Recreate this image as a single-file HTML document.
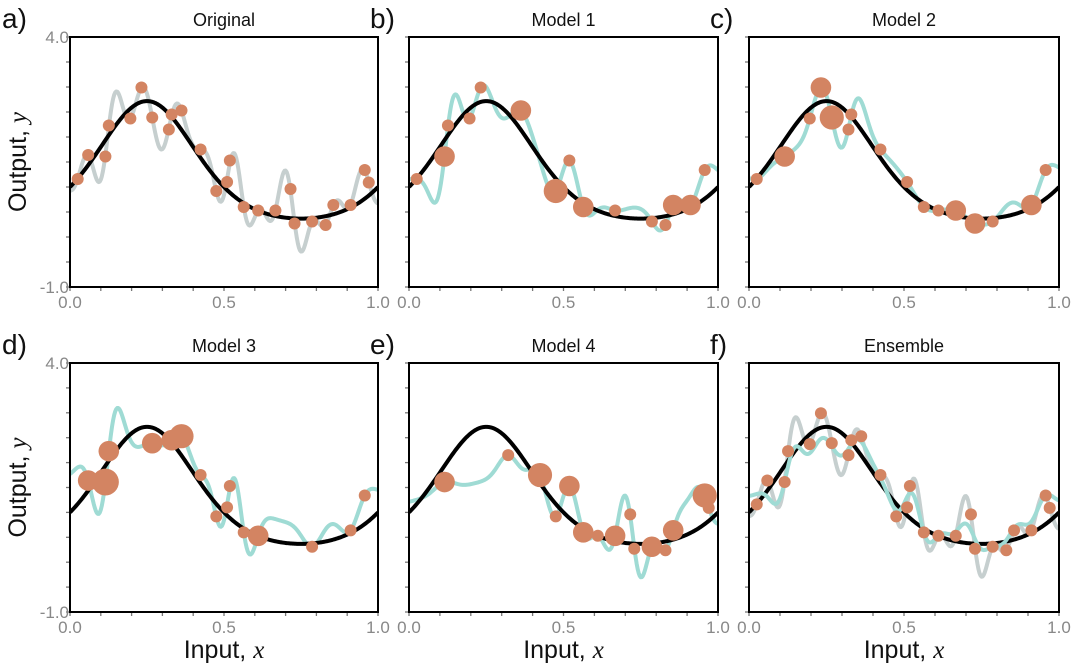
<!DOCTYPE html>
<html><head><meta charset="utf-8">
<style>
body{margin:0;background:#fff;}
svg{display:block;}
text{font-family:"Liberation Sans",sans-serif;}
</style></head>
<body>
<svg id="fig" width="1075" height="668" viewBox="0 0 1075 668"></svg>
<script>
// ---- data ----
const dataX = [0.025,0.059,0.126,0.115,0.196,0.232,0.267,0.321,0.33,0.362,0.424,0.475,0.51,0.519,0.564,0.611,0.667,0.716,0.729,0.786,0.83,0.855,0.911,0.957,0.97];
const dataY = [1.16,1.64,2.23,1.61,2.37,2.99,2.39,2.15,2.45,2.53,1.75,0.92,1.10,1.53,0.60,0.53,0.53,0.96,0.27,0.31,0.24,0.64,0.64,1.34,1.09];
// bootstrap samples: indices into data (1-based) and counts
const model1Idx = [1,4,3,5,6,10,12,14,15,17,20,21,22,23,24];
const model1Cnt = [1,2,1,1,1,2,3,1,2,1,1,1,2,2,1];
const model2Idx = [1,4,5,6,7,9,8,11,13,15,16,17,19,20,23,24];
const model2Cnt = [1,2,1,2,3,1,1,1,1,1,1,2,2,1,2,1];
const model3Idx = [2,4,3,7,9,10,11,12,13,14,15,16,20,23,24];
const model3Cnt = [2,4,2,2,2,3,1,1,1,1,1,2,1,1,1];
const model4Idx = [4,8,11,12,14,15,16,17,18,19,20,21,22,24,25];
const model4Cnt = [2,1,3,1,2,2,1,2,1,1,2,1,2,3,1];
const panelTitles = ["Original","Model 1","Model 2","Model 3","Model 4","Ensemble"];
const panelLetters = ["a)","b)","c)","d)","e)","f)"];
const xTickLabels = ["0.0","0.5","1.0"];
const yTickLabels = ["4.0","-1.0"];

// ---- layout ----
const NS="http://www.w3.org/2000/svg";
const svg=document.getElementById('fig');
const colsX=[[70,378],[409,718],[749,1059]];
const rowsY=[[37,287],[363,612]];
const XMIN=0,XMAX=1,YMIN=-1,YMAX=4;
function mk(tag,attrs,parent){const e=document.createElementNS(NS,tag);for(const k in attrs)e.setAttribute(k,attrs[k]);(parent||svg).appendChild(e);return e;}
function truth(x){return Math.exp(Math.sin(2*Math.PI*x));}

// ---- GP-style smoother ----
function kern(a,b){const d=a-b;return 0.6*Math.exp(-d*d/(2*0.15*0.15))+0.7*Math.exp(-d*d/(2*0.032*0.032));}
function fit(xs,ys,ws){
  const n=xs.length;let sw=0,sy=0;for(let i=0;i<n;i++){sw+=ws[i];sy+=ws[i]*ys[i];}
  const m=sy/sw;
  const A=[];for(let i=0;i<n;i++){A.push([]);for(let j=0;j<n;j++)A[i].push(kern(xs[i],xs[j])+(i==j?0.004/ws[i]:0));A[i].push(ys[i]-m);}
  for(let c=0;c<n;c++){let p=c;for(let r=c+1;r<n;r++)if(Math.abs(A[r][c])>Math.abs(A[p][c]))p=r;[A[c],A[p]]=[A[p],A[c]];
    for(let r=0;r<n;r++){if(r==c)continue;const f=A[r][c]/A[c][c];for(let k=c;k<=n;k++)A[r][k]-=f*A[c][k];}}
  const al=A.map((r,i)=>r[n]/r[i]);
  return x=>{let s=m;for(let i=0;i<n;i++)s+=al[i]*kern(x,xs[i]);return s;};
}
function sub(idx,cnt){return{x:idx.map(i=>dataX[i-1]),y:idx.map(i=>dataY[i-1]),w:cnt.slice()};}
const orig={x:dataX,y:dataY,w:dataX.map(()=>1)};
const models=[sub(model1Idx,model1Cnt),sub(model2Idx,model2Cnt),sub(model3Idx,model3Cnt),sub(model4Idx,model4Cnt)];
const origFn=fit(orig.x,orig.y,orig.w);
const modelFns=models.map(d=>fit(d.x,d.y,d.w));
const ensFn=x=>modelFns.reduce((s,f)=>s+f(x),0)/modelFns.length;

function drawPanel(pi){
  const c=pi%3,r=Math.floor(pi/3);const [x0,x1]=colsX[c],[y0,y1]=rowsY[r];
  const sx=v=>x0+(v-XMIN)/(XMAX-XMIN)*(x1-x0);
  const sy=v=>y1-(v-YMIN)/(YMAX-YMIN)*(y1-y0);
  const g=mk('g',{});
  
  
  const cid='clip'+pi;
  const cp=mk('clipPath',{id:cid},g);mk('rect',{x:x0,y:y0,width:x1-x0,height:y1-y0},cp);
  for(let k=0;k<=10;k++){const t=mk('line',{x1:x0-4,x2:x0,y1:sy(YMIN+k*0.5),y2:sy(YMIN+k*0.5),stroke:'#777','stroke-width':1.3},g);
    }
  for(let k=0;k<=10;k++){const t=mk('line',{x1:sx(k*0.1),x2:sx(k*0.1),y1:y1,y2:y1+4,stroke:'#777','stroke-width':1.3},g);
    }
  const inner=mk('g',{'clip-path':'url(#'+cid+')'},g);
  function curve(fn,col,name){let d='';for(let i=0;i<=300;i++){const x=i/300;d+=(i?'L':'M')+sx(x).toFixed(2)+','+sy(fn(x)).toFixed(2);}
    const p=mk('path',{d:d,fill:'none',stroke:col,'stroke-width':4,'stroke-linejoin':'round'},inner);
    }
  const data=pi==0||pi==5?orig:models[pi-1];
  if(pi==0){curve(origFn,'#c6cfcf','original-fit-curve');curve(truth,'#000','true-function-curve');}
  else if(pi==5){curve(origFn,'#c6cfcf','original-fit-curve');curve(truth,'#000','true-function-curve');curve(ensFn,'#9fdbd4','ensemble-mean-curve');}
  else {curve(modelFns[pi-1],'#9fdbd4','model-fit-curve');curve(truth,'#000','true-function-curve');}
  for(let i=0;i<data.x.length;i++){const w=data.w[i];
    const p=mk('circle',{cx:sx(data.x[i]),cy:sy(data.y[i]),r:6+4.3*Math.sqrt(w-1),fill:'#d38462'},g);
    }
  const fr=mk('rect',{x:x0,y:y0,width:x1-x0,height:y1-y0,fill:'none',stroke:'#000','stroke-width':2},g);
  
  const ti=mk('text',{x:(x0+x1)/2,y:y0-11,'text-anchor':'middle','font-size':18,fill:'#111'},g);ti.textContent=panelTitles[pi];
  
  const le=mk('text',{x:x0-68+(c?29:0),y:y0-9,'font-size':28,fill:'#111'},g);le.textContent=panelLetters[pi];
  
  [0,0.5,1].forEach((v,k)=>{const t=mk('text',{x:sx(v),y:y1+21,'text-anchor':'middle','font-size':17,fill:'#888'},g);t.textContent=xTickLabels[k];
    });
  if(c==0){[YMAX,YMIN].forEach((v,k)=>{const t=mk('text',{x:x0-1,y:sy(v)+6,'text-anchor':'end','font-size':17,fill:'#888'},g);t.textContent=yTickLabels[k];
      });
    const yt=mk('text',{x:0,y:0,transform:'translate(26,'+((y0+y1)/2)+') rotate(-90)','text-anchor':'middle','font-size':25,fill:'#111'},g);
    yt.innerHTML='Output, <tspan font-family="Liberation Serif,serif" font-style="italic">y</tspan>';
    }
  if(r==1){const xt=mk('text',{x:(x0+x1)/2,y:658,'text-anchor':'middle','font-size':25,fill:'#111'},g);
    xt.innerHTML='Input, <tspan font-family="Liberation Serif,serif" font-style="italic">x</tspan>';
    }
}
for(let p=0;p<6;p++)drawPanel(p);
</script>
</body></html>
